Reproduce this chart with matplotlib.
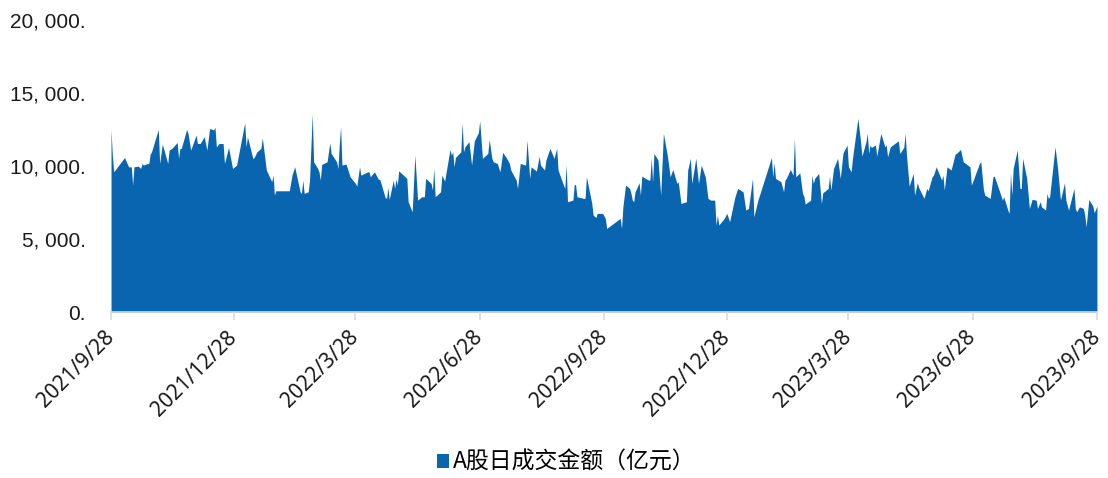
import matplotlib
matplotlib.use('Agg')
import matplotlib.pyplot as plt
from matplotlib.patches import Patch
from matplotlib.font_manager import FontProperties
import pandas as pd

dates = [
    '2021-09-28', '2021-09-29', '2021-09-30', '2021-10-08', '2021-10-11', '2021-10-13', '2021-10-14', '2021-10-15',
    '2021-10-18', '2021-10-20', '2021-10-21', '2021-10-22', '2021-10-25', '2021-10-26', '2021-10-27', '2021-10-28',
    '2021-11-02', '2021-11-03', '2021-11-05', '2021-11-09', '2021-11-10', '2021-11-12', '2021-11-16', '2021-11-17',
    '2021-11-18', '2021-11-19', '2021-11-23', '2021-11-24', '2021-11-26', '2021-11-30', '2021-12-01', '2021-12-03',
    '2021-12-06', '2021-12-08', '2021-12-10', '2021-12-13', '2021-12-14', '2021-12-15', '2021-12-17', '2021-12-20',
    '2021-12-21', '2021-12-24', '2021-12-27', '2021-12-30', '2022-01-05', '2022-01-06', '2022-01-07', '2022-01-11',
    '2022-01-12', '2022-01-14', '2022-01-17', '2022-01-18', '2022-01-19', '2022-01-21', '2022-01-25', '2022-01-26',
    '2022-01-27', '2022-01-28', '2022-02-07', '2022-02-09', '2022-02-11', '2022-02-15', '2022-02-16', '2022-02-17',
    '2022-02-18', '2022-02-21', '2022-02-22', '2022-02-24', '2022-02-25', '2022-02-28', '2022-03-01', '2022-03-02',
    '2022-03-03', '2022-03-07', '2022-03-09', '2022-03-10', '2022-03-14', '2022-03-15', '2022-03-16', '2022-03-17',
    '2022-03-18', '2022-03-21', '2022-03-24', '2022-03-28', '2022-03-29', '2022-03-31', '2022-04-01', '2022-04-06',
    '2022-04-07', '2022-04-08', '2022-04-11', '2022-04-14', '2022-04-15', '2022-04-19', '2022-04-20', '2022-04-21',
    '2022-04-22', '2022-04-25', '2022-04-26', '2022-04-27', '2022-04-28', '2022-04-29', '2022-05-05', '2022-05-06',
    '2022-05-09', '2022-05-11', '2022-05-13', '2022-05-16', '2022-05-18', '2022-05-19', '2022-05-23', '2022-05-24',
    '2022-05-25', '2022-05-26', '2022-05-30', '2022-05-31', '2022-06-02', '2022-06-06', '2022-06-07', '2022-06-08',
    '2022-06-09', '2022-06-10', '2022-06-14', '2022-06-15', '2022-06-16', '2022-06-17', '2022-06-20', '2022-06-22',
    '2022-06-24', '2022-06-27', '2022-06-28', '2022-06-30', '2022-07-04', '2022-07-05', '2022-07-07', '2022-07-08',
    '2022-07-11', '2022-07-13', '2022-07-15', '2022-07-18', '2022-07-20', '2022-07-21', '2022-07-25', '2022-07-26',
    '2022-07-28', '2022-08-01', '2022-08-02', '2022-08-04', '2022-08-05', '2022-08-08', '2022-08-09', '2022-08-11',
    '2022-08-12', '2022-08-15', '2022-08-16', '2022-08-19', '2022-08-22', '2022-08-24', '2022-08-25', '2022-08-29',
    '2022-08-30', '2022-08-31', '2022-09-01', '2022-09-05', '2022-09-06', '2022-09-07', '2022-09-08', '2022-09-13',
    '2022-09-14', '2022-09-15', '2022-09-19', '2022-09-20', '2022-09-22', '2022-09-23', '2022-09-27', '2022-09-29',
    '2022-09-30', '2022-10-10', '2022-10-11', '2022-10-12', '2022-10-14', '2022-10-17', '2022-10-18', '2022-10-19',
    '2022-10-20', '2022-10-21', '2022-10-24', '2022-10-25', '2022-10-26', '2022-10-31', '2022-11-01', '2022-11-02',
    '2022-11-03', '2022-11-04', '2022-11-07', '2022-11-09', '2022-11-11', '2022-11-14', '2022-11-16', '2022-11-18',
    '2022-11-21', '2022-11-22', '2022-11-24', '2022-11-28', '2022-11-29', '2022-12-01', '2022-12-02', '2022-12-05',
    '2022-12-07', '2022-12-09', '2022-12-12', '2022-12-14', '2022-12-16', '2022-12-19', '2022-12-20', '2022-12-21',
    '2022-12-22', '2022-12-26', '2022-12-28', '2022-12-30', '2023-01-03', '2023-01-05', '2023-01-09', '2023-01-11',
    '2023-01-13', '2023-01-16', '2023-01-17', '2023-01-20', '2023-01-30', '2023-01-31', '2023-02-01', '2023-02-02',
    '2023-02-06', '2023-02-08', '2023-02-09', '2023-02-10', '2023-02-13', '2023-02-15', '2023-02-16', '2023-02-17',
    '2023-02-20', '2023-02-22', '2023-02-23', '2023-02-24', '2023-02-28', '2023-03-01', '2023-03-02', '2023-03-03',
    '2023-03-06', '2023-03-08', '2023-03-09', '2023-03-13', '2023-03-14', '2023-03-15', '2023-03-17', '2023-03-20',
    '2023-03-22', '2023-03-24', '2023-03-27', '2023-03-28', '2023-03-30', '2023-03-31', '2023-04-04', '2023-04-06',
    '2023-04-07', '2023-04-10', '2023-04-11', '2023-04-12', '2023-04-13', '2023-04-14', '2023-04-17', '2023-04-18',
    '2023-04-21', '2023-04-24', '2023-04-25', '2023-04-26', '2023-04-28', '2023-05-04', '2023-05-05', '2023-05-08',
    '2023-05-09', '2023-05-10', '2023-05-12', '2023-05-15', '2023-05-16', '2023-05-18', '2023-05-19', '2023-05-23',
    '2023-05-25', '2023-05-26', '2023-05-29', '2023-05-30', '2023-06-01', '2023-06-05', '2023-06-06', '2023-06-07',
    '2023-06-09', '2023-06-12', '2023-06-15', '2023-06-16', '2023-06-19', '2023-06-21', '2023-06-26', '2023-06-27',
    '2023-06-28', '2023-07-03', '2023-07-04', '2023-07-06', '2023-07-07', '2023-07-11', '2023-07-13', '2023-07-14',
    '2023-07-18', '2023-07-20', '2023-07-21', '2023-07-24', '2023-07-25', '2023-07-26', '2023-07-27', '2023-07-28',
    '2023-07-31', '2023-08-02', '2023-08-03', '2023-08-04', '2023-08-07', '2023-08-09', '2023-08-11', '2023-08-14',
    '2023-08-15', '2023-08-17', '2023-08-18', '2023-08-21', '2023-08-22', '2023-08-23', '2023-08-24', '2023-08-28',
    '2023-08-30', '2023-09-01', '2023-09-04', '2023-09-05', '2023-09-07', '2023-09-11', '2023-09-12', '2023-09-13',
    '2023-09-15', '2023-09-18', '2023-09-19', '2023-09-20', '2023-09-22', '2023-09-25', '2023-09-26', '2023-09-28',
]

amounts = [
    12500, 10700, 9610, 10590, 9950, 9950, 8700, 9950,
    10000, 9840, 10180, 10070, 10180, 10180, 10820, 10980,
    12510, 10180, 11510, 10180, 11100, 11210, 11620, 10530,
    11210, 11210, 12510, 12240, 11100, 12120, 11550, 11550,
    12010, 11100, 12580, 12470, 12650, 11320, 11550, 11550,
    10180, 11280, 9840, 10070, 12970, 11320, 12010, 10530,
    10590, 10980, 11210, 11940, 11210, 9730, 8930, 9380,
    8010, 8310, 8310, 9380, 9950, 8240, 8130, 9040,
    8130, 8240, 9040, 13560, 10300, 9840, 9610, 9040,
    10110, 10300, 11600, 10870, 10300, 9840, 11440, 12690,
    10070, 10140, 9270, 8810, 8630, 9950, 9380, 9610,
    9610, 9270, 9610, 9090, 9090, 7850, 7790, 8540,
    7720, 9040, 8470, 9110, 8700, 9680, 9160, 7560,
    6870, 10750, 7670, 7900, 7900, 9160, 8810, 8360,
    9840, 7900, 8240, 9380, 8970, 11140, 10750, 10980,
    9950, 10590, 10980, 12970, 10980, 11320, 11670, 10070,
    11730, 12280, 13100, 10530, 10870, 11830, 10530, 10300,
    10180, 9610, 10940, 10530, 10180, 9730, 9040, 8470,
    10180, 10070, 11780, 9160, 9950, 9730, 9660, 10680,
    10070, 9730, 10410, 11210, 10530, 11210, 9730, 8700,
    8470, 10070, 7560, 7670, 8770, 8700, 7900, 7790,
    7790, 9270, 7440, 6640, 6480, 6760, 6760, 6420,
    5730, 6420, 5730, 7210, 8700, 8470, 8130, 7670,
    7560, 8240, 8860, 8010, 9310, 9040, 9040, 10530,
    8930, 10870, 10410, 8010, 12240, 10680, 9270, 9770,
    8810, 8930, 7440, 7560, 9730, 10530, 8810, 10530,
    8810, 10070, 9270, 7790, 7670, 7670, 5960, 6640,
    5960, 6420, 6760, 6190, 7900, 8470, 8240, 6990,
    7100, 9160, 6530, 7670, 10590, 9270, 10230, 9160,
    8930, 8240, 9040, 9160, 9770, 9380, 11890, 9270,
    9540, 8130, 7940, 7400, 7670, 9380, 8810, 9160,
    9500, 7440, 8170, 8470, 9310, 8360, 9840, 10530,
    9160, 10910, 11440, 9950, 9610, 10530, 13260, 11670,
    10680, 11670, 12240, 10870, 11440, 11280, 11440, 10680,
    12240, 11320, 11440, 10640, 11320, 11730, 10870, 11280,
    12240, 10750, 8630, 9500, 8010, 8860, 8540, 7790,
    8470, 8310, 9270, 9380, 9950, 9040, 9380, 8360,
    9950, 9730, 10820, 10870, 11140, 10300, 9950, 8700,
    8930, 10180, 10300, 8360, 8010, 7790, 9270, 9310,
    8240, 7670, 7900, 6990, 6760, 9500, 8010, 9840,
    11100, 8470, 8470, 10530, 9160, 7100, 7720, 7670,
    7100, 7560, 7210, 6990, 8130, 7790, 7900, 11320,
    9730, 7670, 8860, 7670, 6990, 8470, 7100, 6870,
    7210, 7100, 6640, 5840, 7720, 7260, 6810, 7260,
]

tick_dates = ['2021-09-28', '2021-12-28', '2022-03-28', '2022-06-28', '2022-09-28',
              '2022-12-28', '2023-03-28', '2023-06-28', '2023-09-28']
tick_labels = ['2021/9/28', '2021/12/28', '2022/3/28', '2022/6/28', '2022/9/28',
               '2022/12/28', '2023/3/28', '2023/6/28', '2023/9/28']
y_ticks = [0, 5000, 10000, 15000, 20000]
series_name = 'A股日成交金额（亿元）'

BLUE = '#0A65B0'
AXIS_GRAY = '#D9D9D9'

fig = plt.figure(figsize=(11.08, 4.78), dpi=100)
ax = fig.add_axes([0.1002, 0.347, 0.8898, 0.611])

x = pd.to_datetime(dates)
ax.fill_between(x, amounts, 0, color=BLUE, lw=0)

ax.set_xlim(pd.Timestamp(tick_dates[0]), pd.Timestamp(tick_dates[-1]))
ax.set_ylim(0, 20000)

def ylab(v):
    return f"{v:,.0f}".replace(',', ', ') + '.'

ax.set_yticks(y_ticks)
ax.set_yticklabels([ylab(v) for v in y_ticks], fontfamily='Liberation Sans', fontsize=15, color='#1a1a1a')
ax.tick_params(axis='y', length=0, pad=18)

ax.set_xticks(pd.to_datetime(tick_dates))
ax.set_xticklabels(tick_labels, rotation=45, ha='right', va='center', rotation_mode='anchor',
                   fontfamily='Noto Sans', fontsize=15, color='#1a1a1a')
ax.tick_params(axis='x', length=6, width=1.2, color=AXIS_GRAY, pad=10)

for s in ['top', 'right', 'left']:
    ax.spines[s].set_visible(False)
ax.spines['bottom'].set_color(AXIS_GRAY)
ax.spines['bottom'].set_linewidth(1.2)

fig.legend(handles=[Patch(facecolor=BLUE, edgecolor='none')], labels=[series_name],
           loc='center', bbox_to_anchor=(0.511, 0.033), frameon=False,
           handlelength=0.55, handleheight=0.55, handletextpad=0.15,
           prop=FontProperties(family='Noto Sans CJK SC', size=16.5))

fig.savefig('out.png', dpi=100)
